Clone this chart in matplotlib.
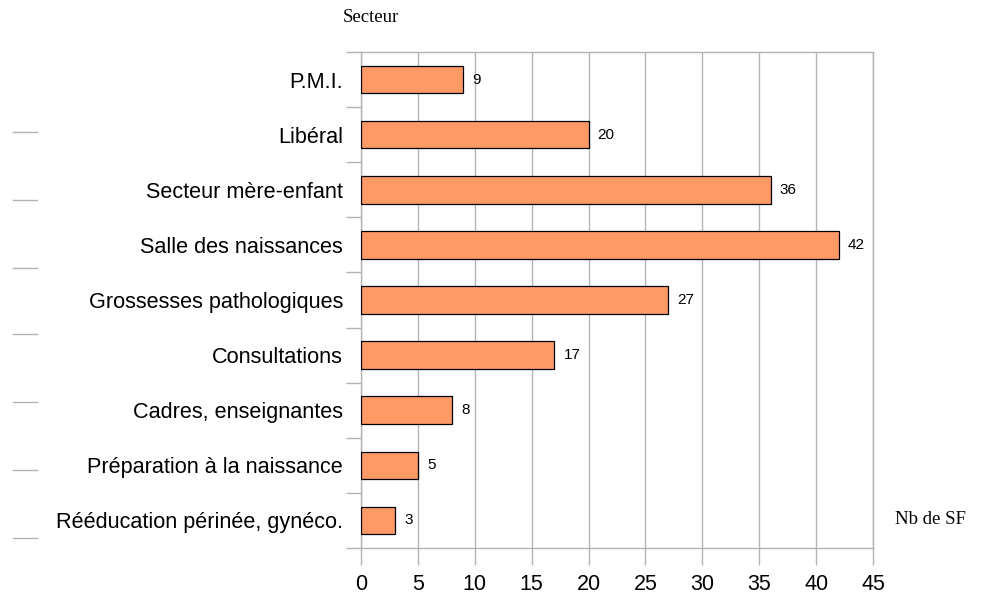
import matplotlib
matplotlib.use("Agg")
import matplotlib.pyplot as plt
from matplotlib.lines import Line2D
import numpy as np

categories = ["P.M.I.", "Libéral", "Secteur mère-enfant", "Salle des naissances",
              "Grossesses pathologiques", "Consultations", "Cadres, enseignantes",
              "Préparation à la naissance", "Rééducation périnée, gynéco."]
values = [9, 20, 36, 42, 27, 17, 8, 5, 3]
xticks = [0, 5, 10, 15, 20, 25, 30, 35, 40, 45]

plt.rcParams['font.family'] = ['Liberation Sans', 'DejaVu Sans']

fig = plt.figure(figsize=(9.84, 6.01), dpi=100)
ax = fig.add_axes([361/984, 1-548/601, (873-361)/984, (548-52)/601])

grid_c = "#b3b3b3"
y = np.arange(len(categories))
bars = ax.barh(y, values, height=0.5, color="#ff9966", edgecolor="black", linewidth=0.9, zorder=3)
for yi, v in zip(y, values):
    ax.annotate(str(v), (v, yi), xytext=(6.5, 0), textcoords="offset points",
                va="center", ha="left", fontsize=11, color="black")

ax.set_xlim(0, 45)
ax.set_ylim(len(categories)-0.5, -0.5)
ax.set_xticks(xticks)
ax.set_xticklabels([str(t) for t in xticks], fontsize=15.5)
ax.set_yticks(np.arange(-0.5, len(categories), 1.0))
ax.set_yticklabels([])
ax.set_yticks(y, minor=True)
ax.set_yticklabels(categories, minor=True, fontsize=15.6)
ax.tick_params(axis='y', which='major', length=11, color=grid_c, width=1)
ax.tick_params(axis='y', which='minor', length=0, pad=13)
ax.tick_params(axis='x', which='major', length=12, color=grid_c, width=1, pad=7)
ax.grid(axis='x', color=grid_c, linewidth=1, zorder=0)
for s in ax.spines.values():
    s.set_color(grid_c)
    s.set_linewidth(1)

fig.text(343/984, 1-17/601, "Secteur", family="Liberation Serif", fontsize=13.5, va="center", ha="left")
fig.text(895/984, 1-519/601, "Nb de SF", family="Liberation Serif", fontsize=13.5, va="center", ha="left")

for yy in [132, 200, 268, 334, 402, 470, 538]:
    fig.add_artist(Line2D([13/984, 37/984], [1-yy/601, 1-yy/601], color=grid_c, linewidth=1))

fig.savefig("out.png", dpi=100)
